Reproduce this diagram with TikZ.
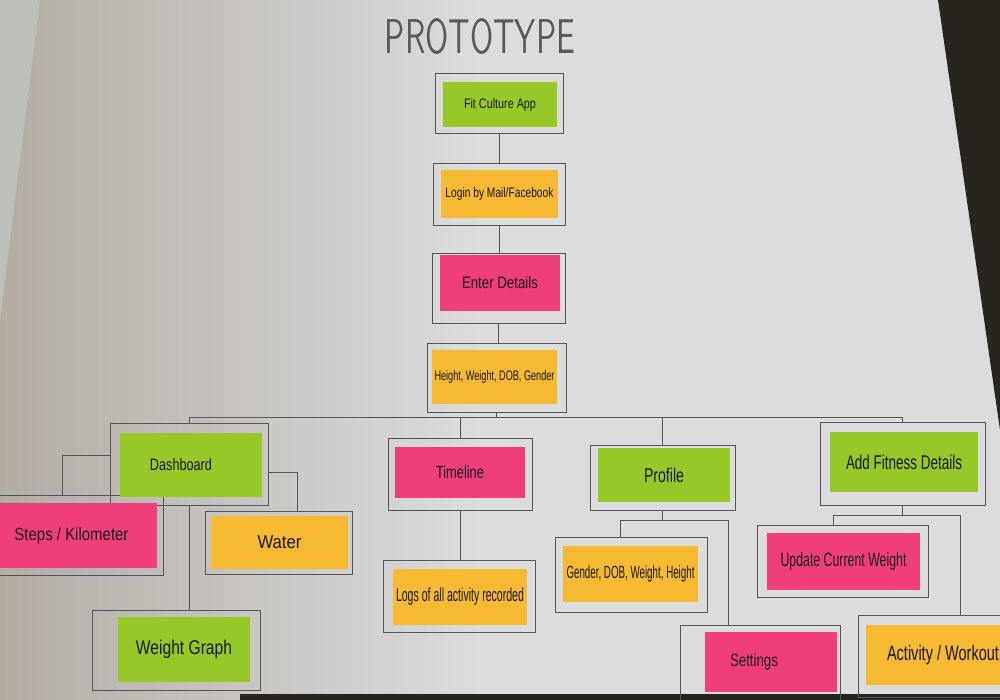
\documentclass[tikz,border=0pt]{standalone}
\usepackage{graphicx}
\usepackage{fontspec}
\setmainfont{Liberation Sans}
\definecolor{paperL}{RGB}{178,172,163}
\definecolor{paperR}{RGB}{220,220,222}
\definecolor{stripc}{RGB}{188,190,186}
\definecolor{darkbg}{RGB}{40,36,30}
\definecolor{boxline}{RGB}{85,85,88}
\definecolor{ink}{RGB}{25,25,40}
\definecolor{notegreen}{RGB}{150,200,40}
\definecolor{noteyellow}{RGB}{245,185,50}
\definecolor{notepink}{RGB}{240,62,122}
\newcommand\obox[5]{\node[outerbox, minimum width={(#4-#2)*0.25mm}, minimum height={(#5-#3)*0.25mm}] (#1) at ({(#2+#4)/2},{(#3+#5)/2}) {};}
\newcommand\snote[9]{\node[stickynote, fill=#6, minimum width={(#4-#2)*0.25mm}, minimum height={(#5-#3)*0.25mm}] (#1) at ({(#2+#4)/2},{(#3+#5)/2}) {\resizebox{#7mm}{#8mm}{#9}};}
\begin{document}
\begin{tikzpicture}[x=0.25mm,y=-0.25mm,
  outerbox/.style={draw=boxline, line width=0.55pt, rectangle, inner sep=0pt},
  stickynote/.style={rectangle, inner sep=0pt, text=ink},
  conn/.style={draw=boxline, line width=0.55pt}]
\useasboundingbox (0,0) rectangle (1000,700);
% paper and background
\shade[left color=paperL, right color=paperR] (0,0) rectangle (480,700);
\fill[paperR] (479,0) rectangle (1000,700);
\fill[stripc] (0,0) -- (40,0) -- (0,320) -- cycle;
\fill[darkbg] (938,0) -- (1000,0) -- (1000,430) -- cycle;
\fill[darkbg] (240,694) rectangle (1000,700);
% title
\node[text=black!65] (title) at (480,37) {\resizebox{47.5mm}{8.75mm}{\sffamily PROTOTYPE}};
% outer boxes
\obox{app}{435}{73}{563}{133}
\obox{login}{433}{163}{565}{225}
\obox{enter}{432}{253}{565}{323}
\obox{hw}{427}{343}{566}{412}
\obox{dash}{110}{423}{268}{505}
\obox{time}{388}{438}{532}{510}
\obox{prof}{590}{445}{735}{510}
\obox{fit}{820}{422}{985}{505}
\obox{steps}{-10}{495}{163}{575}
\obox{water}{205}{511}{352}{574}
\obox{graph}{92}{610}{260}{690}
\obox{logs}{383}{560}{535}{632}
\obox{gdob}{555}{537}{707}{612}
\obox{settings}{680}{625}{840}{710}
\obox{update}{757}{525}{928}{597}
\obox{activity}{858}{615}{1020}{697}
% sticky notes
\snote{appN}{443}{82}{557}{127}{notegreen}{18}{2.5}{Fit Culture App}
\snote{loginN}{441}{170}{558}{218}{noteyellow}{27}{2.5}{Login by Mail/Facebook}
\snote{enterN}{440}{255}{560}{311}{notepink}{19}{3}{Enter Details}
\snote{hwN}{432}{350}{557}{404}{noteyellow}{30}{2.5}{Height, Weight, DOB, Gender}
\node[stickynote, fill=notegreen, minimum width={142*0.25mm}, minimum height={64*0.25mm}] (dashN) at (191,465) {\resizebox{15.5mm}{3mm}{Dashboard}\rule{5mm}{0pt}};
\snote{timeN}{395}{447}{525}{498}{notepink}{12}{3.2}{Timeline}
\snote{profN}{598}{448}{730}{502}{notegreen}{10}{3.6}{Profile}
\snote{fitN}{830}{432}{978}{492}{notegreen}{29}{3.6}{Add Fitness Details}
\snote{stepsN}{-14}{503}{157}{568}{notepink}{28.5}{3.2}{Steps / Kilometer}
\snote{waterN}{211}{516}{348}{569}{noteyellow}{11}{3.2}{Water}
\snote{graphN}{118}{617}{250}{682}{notegreen}{24}{3.6}{Weight Graph}
\snote{logsN}{393}{569}{527}{625}{noteyellow}{32}{3.4}{Logs of all activity recorded}
\snote{gdobN}{563}{546}{698}{602}{noteyellow}{32}{3.2}{Gender, DOB, Weight, Height}
\node[stickynote, fill=notepink, minimum width={132*0.25mm}, minimum height={60*0.25mm}] (settingsN) at (771,662) {\resizebox{12mm}{3.2mm}{Settings}\rule{8.5mm}{0pt}};
\snote{updateN}{767}{533}{920}{590}{notepink}{31.5}{3.5}{Update Current Weight}
\snote{activityN}{866}{625}{1020}{685}{noteyellow}{28}{3.8}{Activity / Workout}
% connectors
\coordinate (busL) at (189,417);
\coordinate (busR) at (902.5,417);
\coordinate (d1) at (62,455);
\coordinate (d2) at (297,472);
\coordinate (p1) at (620,520);
\coordinate (p2) at (728,520);
\coordinate (a1) at (833,515);
\coordinate (a2) at (960,515);
\draw[conn] (app.south) -- (app.south |- login.north);
\draw[conn] (login.south) -- (login.south |- enter.north);
\draw[conn] (enter.south) -- (enter.south |- hw.north);
\draw[conn] (hw.south) -- (hw.south |- busL);
\draw[conn] (dash.north) -- (dash.north |- busL) -- (busR) -- (busR |- fit.north);
\draw[conn] (time.north) -- (time.north |- busL);
\draw[conn] (prof.north) -- (prof.north |- busL);
\draw[conn] (dash.west |- d1) -| (steps.north -| d1);
\draw[conn] (dash.east |- d2) -| (water.north -| d2);
\draw[conn] (dash.south) -- (dash.south |- graph.north);
\draw[conn] (time.south) -- (time.south |- logs.north);
\draw[conn] (prof.south) -- (prof.south |- p1);
\draw[conn] (gdob.north -| p1) |- (p2) -- (p2 |- settings.north);
\draw[conn] (fit.south) -- (fit.south |- a1);
\draw[conn] (update.north -| a1) |- (a2) -- (a2 |- activity.north);
\end{tikzpicture}
\end{document}
